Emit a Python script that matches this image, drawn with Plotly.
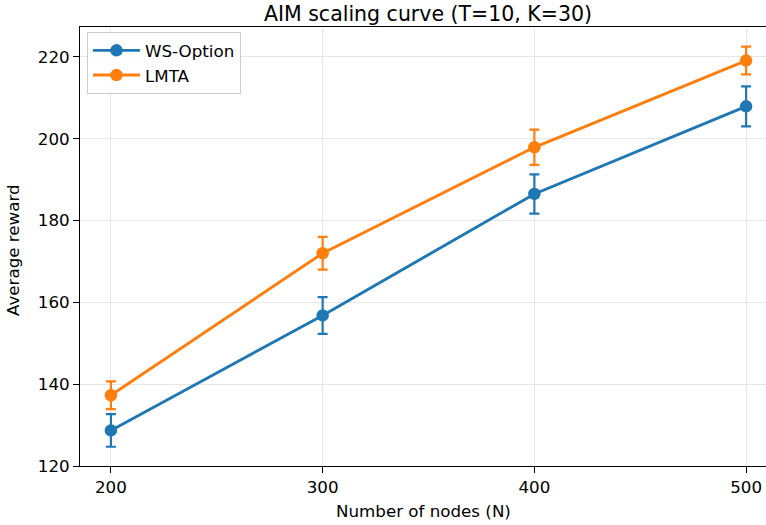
import plotly.graph_objects as go

nodes = [200, 300, 400, 500]
ws_option = [128.7, 156.8, 186.5, 207.9]
ws_option_err = [4.0, 4.5, 4.8, 4.9]
lmta = [137.3, 172.0, 197.9, 219.1]
lmta_err = [3.4, 4.0, 4.3, 3.4]
y_ticks = [120, 140, 160, 180, 200, 220]
x_ticks = [200, 300, 400, 500]

BLUE = "#1f77b4"
ORANGE = "#ff7f0e"
FONT = "DejaVu Sans"
FS = 16.7

fig = go.Figure()
for name, vals, errs, col in [("WS-Option", ws_option, ws_option_err, BLUE),
                              ("LMTA", lmta, lmta_err, ORANGE)]:
    fig.add_trace(go.Scatter(
        x=nodes, y=vals, name=name, mode="lines+markers",
        line=dict(color=col, width=2.9),
        marker=dict(color=col, size=12.5),
        error_y=dict(type="data", array=errs, visible=True, color=col,
                     thickness=2.2, width=5),
    ))

# plot area in pixels: left 80, right 766, top 27, bottom 466
PW, PH = 686, 439

fig.update_layout(
    width=766, height=525,
    margin=dict(l=80, r=0, t=27, b=59),
    paper_bgcolor="white", plot_bgcolor="white",
    font=dict(family=FONT, size=FS, color="black"),
    title=dict(text="AIM scaling curve (T=10, K=30)", x=428/766, xref="container",
               xanchor="center", y=1 - 14/525, yref="container", yanchor="middle",
               font=dict(family=FONT, size=20.5, color="black")),
    legend=dict(x=(87 - 80) / PW, y=1 - (32 - 27) / PH, xanchor="left", yanchor="top",
                bgcolor="rgba(255,255,255,0.8)", bordercolor="#cccccc", borderwidth=1,
                itemwidth=47, font=dict(family=FONT, size=FS)),
    showlegend=True,
    annotations=[
        dict(text="Number of nodes (N)", x=(423 - 80) / PW, y=(466 - 511) / PH,
             xref="paper", yref="paper", xanchor="center", yanchor="middle",
             showarrow=False, font=dict(family=FONT, size=FS)),
        dict(text="Average reward", x=(13 - 80) / PW, y=(466 - 250) / PH,
             xref="paper", yref="paper", xanchor="center", yanchor="middle",
             showarrow=False, textangle=-90, font=dict(family=FONT, size=FS)),
    ],
)

fig.update_xaxes(
    range=[185.4, 509.4], tickvals=x_ticks, ticktext=[str(v) for v in x_ticks],
    showline=True, linecolor="black", linewidth=1, mirror=True,
    ticks="outside", ticklen=6, tickcolor="black", tickwidth=1,
    showgrid=True, gridcolor="#e6e6e6", gridwidth=1, zeroline=False,
    tickfont=dict(family=FONT, size=FS), automargin=False,
)
fig.update_yaxes(
    range=[120, 227.3], tickvals=y_ticks, ticktext=[str(v) for v in y_ticks],
    showline=True, linecolor="black", linewidth=1, mirror=False,
    ticks="outside", ticklen=6, tickcolor="black", tickwidth=1,
    showgrid=True, gridcolor="#e6e6e6", gridwidth=1, zeroline=False,
    tickfont=dict(family=FONT, size=FS), automargin=False,
)

fig.write_html("out.html", config={"displayModeBar": False},
               post_script="document.body.style.margin='0';document.body.style.overflow='hidden';")
